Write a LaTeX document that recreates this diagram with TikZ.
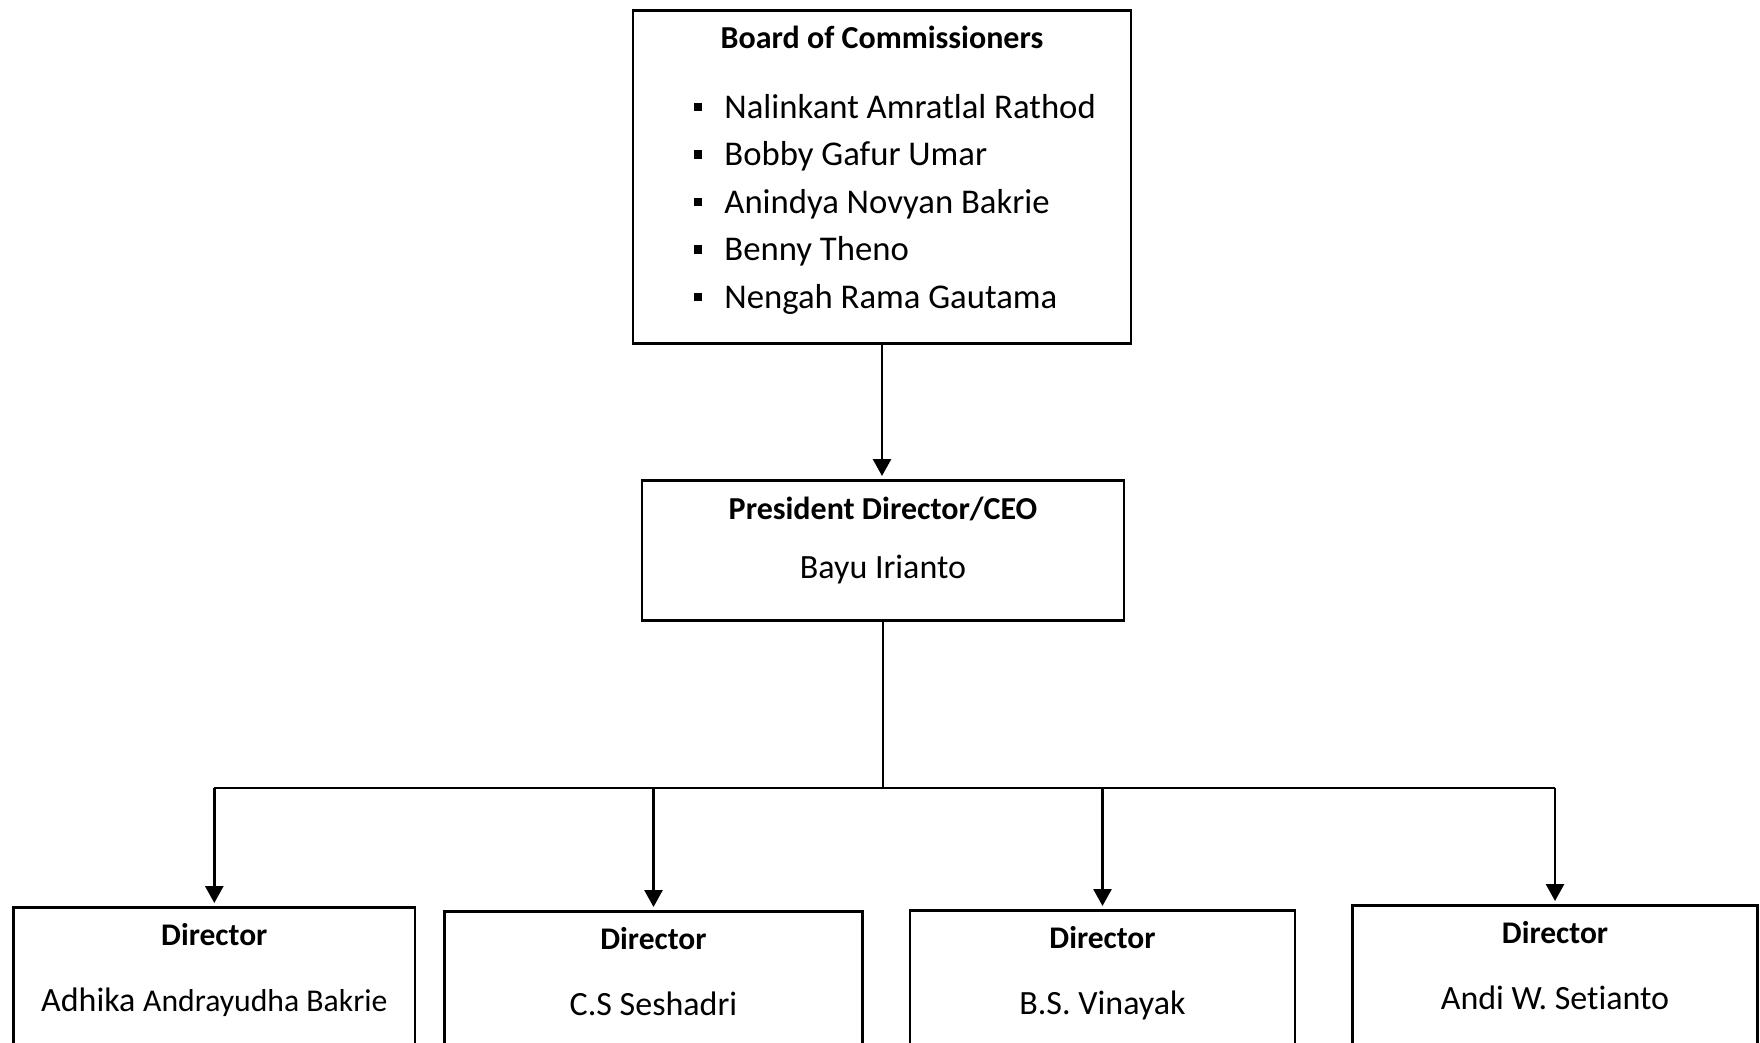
\documentclass[tikz,border=0pt]{standalone}
\usepackage{fontspec}
\setmainfont{Carlito}[Ligatures=NoCommon]
\usetikzlibrary{arrows.meta}

\begin{document}
\begin{tikzpicture}[x=1pt,y=-1pt,line width=2.8pt,
  box/.style={draw,rectangle,inner sep=0pt,anchor=north},
  head/.style={font=\fontsize{32}{38}\selectfont\bfseries,anchor=base,inner sep=0pt},
  person/.style={font=\fontsize{34}{40}\selectfont,anchor=base,inner sep=0pt},
  arr/.style={-{Triangle[width=18pt,length=17pt]},shorten >=3pt}]

% parameters
\def\itemx{723}      % left edge of the board names
\def\itemgap{47.5}   % distance between board names
\def\bul{4.3pt}      % half size of a bullet

% page
\useasboundingbox (0,0) rectangle (1760,1042);
\clip (0,0) rectangle (1760,1042);

% board of commissioners
\node[box,minimum width=498pt,minimum height=333pt] (board) at (882,9) {};
\node[head] (boardtitle) at ([yshift=-39pt]board.north) {Board of Commissioners};
\foreach \who [count=\i] in {Nalinkant Amratlal Rathod,Bobby Gafur Umar,
    Anindya Novyan Bakrie,Benny Theno,Nengah Rama Gautama}{
  \node[person,font=\fontsize{34.7}{40}\selectfont,anchor=base west] (item\i)
    at (\itemx,{70.5+\itemgap*\i}) {\who};
  \fill ([xshift=-25pt,yshift=11pt]item\i.base west) +(-\bul,-\bul) rectangle +(\bul,\bul);
}

% president director
\node[box,minimum width=482pt,minimum height=140pt] (ceo) at (883,479) {};
\node[head] (ceotitle) at ([yshift=-40pt]ceo.north) {President Director/CEO};
\node[person] (ceoname) at ([yshift=-99pt]ceo.north) {Bayu Irianto};

\draw[arr] (board.south) -- (board.south |- ceo.north);

% directors (bottoms run off the page)
\foreach \x/\top/\w/\who [count=\i] in {
    214.3/906/401.5/{\fontsize{34}{40}\selectfont Adhika \fontsize{31.7}{38}\selectfont Andrayudha Bakrie},
    653.5/910/418/{C.S Seshadri},
    1102.5/909/385/{B.S. Vinayak},
    1555/904/405/{Andi W. Setianto}}{
  \node[box,minimum width=\w pt,minimum height=200pt] (dir\i) at (\x,\top) {};
  \node[head,font=\fontsize{31.5}{38}\selectfont\bfseries] (dirtitle\i)
    at ([yshift=-39pt]dir\i.north) {Director};
  \node[person] (dirname\i) at ([yshift=-105pt]dir\i.north) {\who};
}

% bus from the president to the directors
\coordinate (bus) at (883,788);
\draw (ceo.south) -- (bus);
\draw (bus -| dir1.north) -- (bus -| dir4.north);
\foreach \i in {1,...,4}{
  \draw[arr] (bus -| dir\i.north) -- (dir\i.north);
}

\end{tikzpicture}
\end{document}
